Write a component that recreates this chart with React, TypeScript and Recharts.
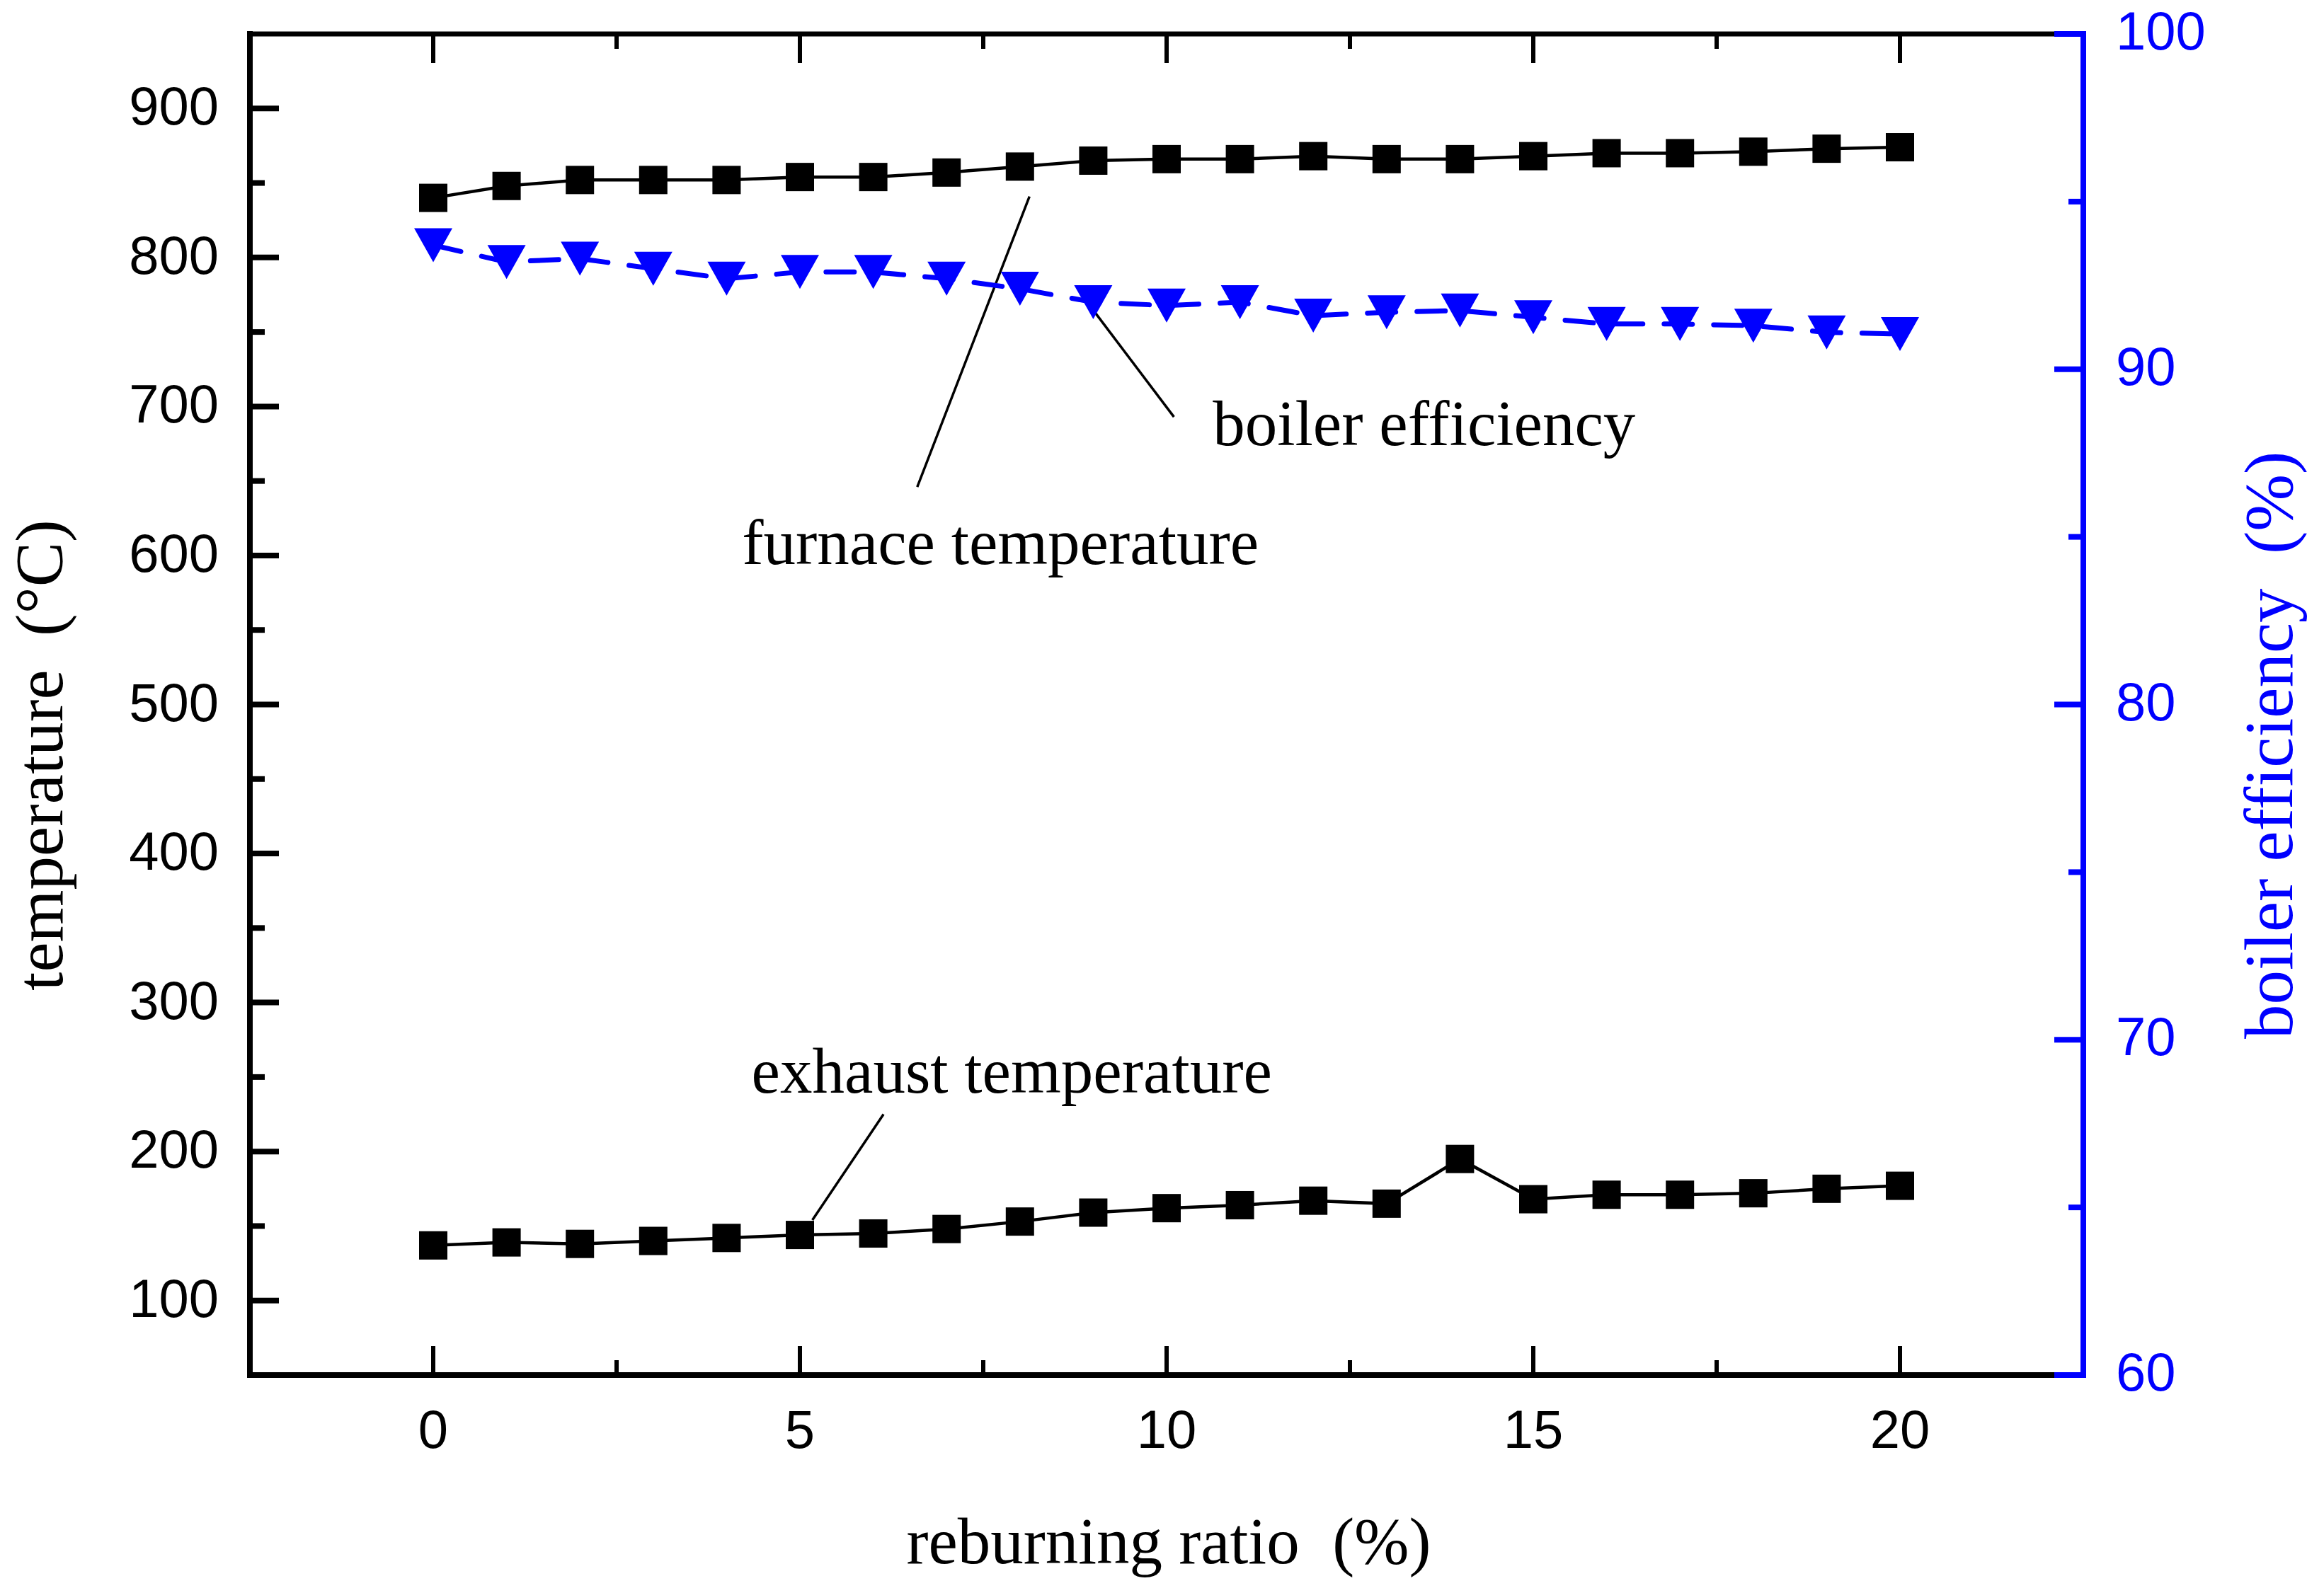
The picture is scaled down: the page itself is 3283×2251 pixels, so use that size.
import React from 'react';
import { LineChart, Line, XAxis, YAxis, ReferenceLine, ReferenceDot } from 'recharts';

// reburning ratio (%)
const ratio = [0, 1, 2, 3, 4, 5, 6, 7, 8, 9, 10, 11, 12, 13, 14, 15, 16, 17, 18, 19, 20];
// furnace temperature (°C)
const furnaceTemp = [840, 848, 852, 852, 852, 854, 854, 857, 861, 865, 866, 866, 868, 866, 866, 868, 870, 870, 871, 873, 874];
// exhaust temperature (°C)
const exhaustTemp = [137, 139, 138, 140, 142, 144, 145, 148, 153, 159, 162, 164, 167, 165, 195, 168, 171, 171, 172, 175, 177];
// boiler efficiency (%)
const boilerEff = [93.7, 93.2, 93.3, 93.0, 92.7, 92.9, 92.9, 92.7, 92.4, 92.0, 91.9, 92.0, 91.6, 91.7, 91.75, 91.55, 91.35, 91.35, 91.3, 91.1, 91.05];

const xTicks = [0, 2.5, 5, 7.5, 10, 12.5, 15, 17.5, 20];
const tempTicks = [100, 150, 200, 250, 300, 350, 400, 450, 500, 550, 600, 650, 700, 750, 800, 850, 900];
const effTicks = [60, 65, 70, 75, 80, 85, 90, 95, 100];

// leader lines, in data coords (x, temperature axis)
const leaders = [
  { from: { x: 8.13, y: 841 }, to: { x: 6.6, y: 646 } },
  { from: { x: 9.01, y: 764 }, to: { x: 10.1, y: 693 } },
  { from: { x: 6.14, y: 225 }, to: { x: 5.17, y: 154 } },
];
const notes = [
  { x: 10.63, y: 674, text: 'boiler efficiency' },
  { x: 4.21, y: 594.5, text: 'furnace temperature' },
  { x: 4.34, y: 239.4, text: 'exhaust temperature' },
];

const data = ratio.map((x, i) => ({
  x,
  furnace: furnaceTemp[i],
  exhaust: exhaustTemp[i],
  eff: boilerEff[i],
}));

const BLUE = '#0000FF';
const SANS = '"Liberation Sans", Arial, sans-serif';
const SERIF = '"Liberation Serif", "Times New Roman", serif';

const AxisTick = (props: any) => {
  const { x, y, payload, side, color, step } = props;
  const v = payload.value;
  const major = Math.abs(v / step - Math.round(v / step)) < 1e-6;
  const len = major ? 41 : 21;
  const w = side === 'left' || side === 'right' ? 8 : 6;
  let line = null;
  let label = null;
  if (side === 'left') {
    line = <line x1={x} y1={y} x2={x + len} y2={y} stroke={color} strokeWidth={w} />;
    if (major) label = <text x={x - 44} y={y + 23} textAnchor="end" fill={color} fontSize={76} fontFamily={SANS}>{v}</text>;
  } else if (side === 'right') {
    line = <line x1={x} y1={y} x2={x - len} y2={y} stroke={color} strokeWidth={w} />;
    if (major) label = <text x={x + 46} y={y + 22} textAnchor="start" fill={color} fontSize={76} fontFamily={SANS}>{v}</text>;
  } else if (side === 'bottom') {
    line = <line x1={x} y1={y} x2={x} y2={y - len} stroke={color} strokeWidth={w} />;
    if (major) label = <text x={x} y={y + 103} textAnchor="middle" fill={color} fontSize={76} fontFamily={SANS}>{v}</text>;
  } else {
    line = <line x1={x} y1={y} x2={x} y2={y + len} stroke={color} strokeWidth={w} />;
  }
  return (
    <g>
      {line}
      {label}
    </g>
  );
};

const LeftTitle = (props: any) => {
  const vb = props.viewBox;
  const tx = vb.x + 88;
  const ty = vb.y + vb.height - 543;
  return (
    <text x={tx} y={ty} transform={`rotate(-90, ${tx}, ${ty})`} fontSize={95} fontFamily={SERIF} fill="#000">
      {'temperature\u00A0\u00A0(°C)'}
    </text>
  );
};

const RightTitle = (props: any) => {
  const vb = props.viewBox;
  const tx = vb.x + 295;
  const ty = vb.y + vb.height - 475;
  return (
    <text x={tx} y={ty} transform={`rotate(-90, ${tx}, ${ty})`} fontSize={97} fontFamily={SERIF} fill={BLUE}>
      {'boiler efficiency\u00A0\u00A0(%)'}
    </text>
  );
};

const BottomTitle = (props: any) => {
  const vb = props.viewBox;
  return (
    <text x={vb.x + vb.width / 2 + 3} y={vb.y + 266} textAnchor="middle" fontSize={93} fontFamily={SERIF} fill="#000">
      {'reburning ratio\u00A0\u00A0(%)'}
    </text>
  );
};

const NoteLabel = (props: any) => {
  const vb = props.viewBox;
  return (
    <text x={vb.x} y={vb.y} fontSize={91} fontFamily={SERIF} fill="#000">
      {props.text}
    </text>
  );
};

const squareDot = (props: any) => {
  const { cx, cy, index } = props;
  return <rect key={`sq-${index}`} x={cx - 20} y={cy - 20} width={40} height={40} fill="#000" />;
};

const triangleDot = (props: any) => {
  const { cx, cy, index } = props;
  return (
    <polygon
      key={`tr-${index}`}
      points={`${cx - 27},${cy - 24} ${cx + 27},${cy - 24} ${cx},${cy + 24}`}
      fill={BLUE}
    />
  );
};

export default function App() {
  return (
    <div style={{ position: 'absolute', left: 0, top: 0, width: 3283, height: 2251, background: '#fff' }}>
      <LineChart width={3283} height={2251} data={data} margin={{ top: 47, right: 0, bottom: 0, left: 0 }}>
        <XAxis
          xAxisId="bottom"
          dataKey="x"
          type="number"
          domain={[-2.5, 22.5]}
          allowDataOverflow
          ticks={xTicks}
          interval={0}
          height={308}
          tickSize={0}
          tickMargin={0}
          axisLine={{ stroke: '#000', strokeWidth: 8, strokeLinecap: 'square' }}
          tickLine={false}
          tick={<AxisTick side="bottom" color="#000" step={5} />}
          label={<BottomTitle />}
        />
        <XAxis
          xAxisId="top"
          orientation="top"
          dataKey="x"
          type="number"
          domain={[-2.5, 22.5]}
          allowDataOverflow
          ticks={xTicks}
          interval={0}
          height={1}
          tickSize={0}
          tickMargin={0}
          axisLine={{ stroke: '#000', strokeWidth: 7, strokeLinecap: 'square' }}
          tickLine={false}
          tick={<AxisTick side="top" color="#000" step={5} />}
        />
        <YAxis
          yAxisId="temp"
          orientation="left"
          type="number"
          domain={[50, 950]}
          allowDataOverflow
          ticks={tempTicks}
          interval={0}
          width={353}
          tickSize={0}
          tickMargin={0}
          axisLine={{ stroke: '#000', strokeWidth: 8, strokeLinecap: 'square' }}
          tickLine={false}
          tick={<AxisTick side="left" color="#000" step={100} />}
          label={<LeftTitle />}
        />
        <YAxis
          yAxisId="eff"
          orientation="right"
          type="number"
          domain={[60, 100]}
          allowDataOverflow
          ticks={effTicks}
          interval={0}
          width={340}
          tickSize={0}
          tickMargin={0}
          axisLine={{ stroke: BLUE, strokeWidth: 8, strokeLinecap: 'square' }}
          tickLine={false}
          tick={<AxisTick side="right" color={BLUE} step={10} />}
          label={<RightTitle />}
        />

        {leaders.map((l, i) => (
          <ReferenceLine
            key={`lead-${i}`}
            xAxisId="bottom"
            yAxisId="temp"
            segment={[l.from, l.to]}
            stroke="#000"
            strokeWidth={3.5}
          />
        ))}
        {notes.map((n, i) => (
          <ReferenceDot
            key={`note-${i}`}
            xAxisId="bottom"
            yAxisId="temp"
            x={n.x}
            y={n.y}
            r={0}
            fill="none"
            stroke="none"
            label={<NoteLabel text={n.text} />}
          />
        ))}

        <Line
          xAxisId="bottom"
          yAxisId="temp"
          dataKey="furnace"
          type="linear"
          stroke="#000"
          strokeWidth={4.5}
          dot={squareDot}
          activeDot={false}
          isAnimationActive={false}
        />
        <Line
          xAxisId="bottom"
          yAxisId="temp"
          dataKey="exhaust"
          type="linear"
          stroke="#000"
          strokeWidth={4.5}
          dot={squareDot}
          activeDot={false}
          isAnimationActive={false}
        />
        <Line
          xAxisId="bottom"
          yAxisId="eff"
          dataKey="eff"
          type="linear"
          stroke={BLUE}
          strokeWidth={7}
          strokeDasharray="40 30"
          strokeLinecap="round"
          dot={triangleDot}
          activeDot={false}
          isAnimationActive={false}
        />
      </LineChart>
    </div>
  );
}
